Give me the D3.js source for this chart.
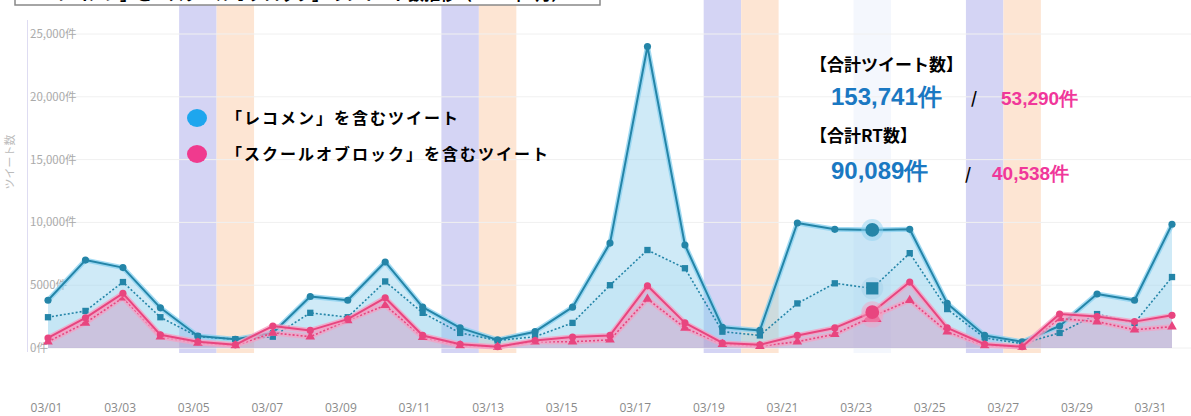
<!DOCTYPE html>
<html>
<head>
<meta charset="utf-8">
<script src="https://cdn.jsdelivr.net/npm/d3@7"></script>
<style>
  body { margin: 0; background: #fff; }
  svg { display: block; font-family: "Noto Sans CJK JP", "Noto Sans", sans-serif; }
</style>
</head>
<body>
<svg id="chart" width="1191" height="416"></svg>
<script>
// days of March
const dates = ["03/01","03/02","03/03","03/04","03/05","03/06","03/07","03/08","03/09","03/10",
  "03/11","03/12","03/13","03/14","03/15","03/16","03/17","03/18","03/19","03/20",
  "03/21","03/22","03/23","03/24","03/25","03/26","03/27","03/28","03/29","03/30","03/31"]
const labelDates = ["03/01","03/03","03/05","03/07","03/09","03/11","03/13","03/15",
  "03/17","03/19","03/21","03/23","03/25","03/27","03/29","03/31"]

// tweets / retweets per day
const recoTweets = [3800,7000,6400,3200,950,700,1200,4100,3800,6850,3250,1600,650,1300,3250,8350,
  24000,8200,1650,1400,9950,9450,9400,9450,3550,1000,500,1750,4300,3800,9850]
const recoRT = [2450,2950,5250,2450,900,700,900,2800,2450,5300,2800,1200,600,900,2000,5000,
  7800,6350,1300,1000,3550,5150,4750,7550,3100,800,350,1200,2700,2000,5650]
const sobTweets = [800,2400,4350,1050,500,250,1750,1400,2300,4000,1000,300,100,600,870,1000,
  4950,2000,400,250,1000,1600,2850,5250,1600,300,100,2700,2500,2100,2600]
const sobRT = [500,2000,4000,900,400,200,1200,900,2200,3400,850,200,80,500,500,650,
  3900,1600,300,150,500,1100,2500,3800,1300,200,80,2350,2100,1450,1700]

const yTicks = [0, 5000, 10000, 15000, 20000, 25000]
const yTickLabels = ["0件","5000件","10,000件","15,000件","20,000件","25,000件"]

const saturdays = ["03/05","03/12","03/19","03/26"]
const sundays = ["03/06","03/13","03/20","03/27"]
const hoverDay = "03/23"

const legendLabels = ["「レコメン」を含むツイート", "「スクールオブロック」を含むツイート"]
const totalTweets = ["153,741件", "53,290件"]
const totalRT = ["90,089件", "40,538件"]

const svg = d3.select("#chart")
const x = d3.scalePoint().domain(dates).range([48, 1172])
const xLab = d3.scalePoint().domain(labelDates).range([46, 1150])
const y = d3.scaleLinear().domain([0, 25000]).range([348, 34])
const step = x.step()

// weekend bands
const band = (days, color) => {
  svg.append("g").selectAll("rect")
    .data(days)
    .join("rect")
    .attr("x", d => x(d) - step/2)
    .attr("y", 0)
    .attr("width", step)
    .attr("height", 353)
    .attr("fill", color)
}
band([hoverDay], "#f4f7fd")
band(saturdays, "#d4d4f4")
band(sundays, "#fde5d3")

// title box (cut off at the top)
svg.append("rect")
  .attr("x", 15).attr("y", -30).attr("width", 585).attr("height", 35)
  .attr("fill", "#fff").attr("stroke", "#888").attr("stroke-width", 1.5)
svg.append("text")
  .attr("x", 40).attr("y", 0)
  .attr("font-size", 16).attr("font-weight", "bold")
  .text("「レコメン」と「スクールオブロック」のツイート数推移（2022年3月）")

// grid + y labels
const yAxis = svg.append("g")
yAxis.selectAll("line")
  .data(yTicks)
  .join("line")
  .attr("x1", 30).attr("x2", 1191)
  .attr("y1", d => y(d)).attr("y2", d => y(d))
  .attr("stroke", "#f0f0f0")
svg.append("line")
  .attr("x1", 27.5).attr("x2", 27.5).attr("y1", 20).attr("y2", 352)
  .attr("stroke", "#dedcf2")
yAxis.selectAll("text")
  .data(yTicks)
  .join("text")
  .attr("x", 30).attr("y", d => y(d) + 4)
  .attr("font-size", 11.5).attr("fill", "#aaa")
  .text((d, i) => yTickLabels[i])
svg.append("text")
  .attr("transform", "translate(14,162) rotate(-90)")
  .attr("text-anchor", "middle")
  .attr("font-size", 11).attr("fill", "#bbb")
  .text("ツイート数")

// x labels
svg.append("g")
  .attr("transform", "translate(0,403)")
  .call(d3.axisBottom(xLab).tickSize(0).tickPadding(0))
  .call(g => g.select(".domain").remove())
  .call(g => g.selectAll("text")
    .attr("font-size", 12).attr("fill", "#8a8a8a")
    .attr("font-family", "\"Open Sans\", sans-serif"))

// areas
const area = vals => d3.area()
  .x((d, i) => x(dates[i]))
  .y0(y(0))
  .y1(d => y(d))(vals)
svg.append("path").attr("d", area(recoTweets)).attr("fill", "rgba(140,205,235,0.42)")
svg.append("path").attr("d", area(recoRT)).attr("fill", "rgba(140,205,235,0.15)")
svg.append("path").attr("d", area(sobTweets)).attr("fill", "rgba(215,130,180,0.35)")

const line = vals => d3.line().x((d, i) => x(dates[i])).y(d => y(d))(vals)

const drawSeries = (vals, color, halo, dashed, shape) => {
  const g = svg.append("g")
  if (halo) {
    g.append("path").attr("d", line(vals))
      .attr("fill", "none").attr("stroke", halo).attr("stroke-width", 5)
      .attr("stroke-linejoin", "round")
  }
  g.append("path").attr("d", line(vals))
    .attr("fill", "none").attr("stroke", color)
    .attr("stroke-width", dashed ? 1.6 : 2)
    .attr("stroke-dasharray", dashed ? "2,2" : null)
    .attr("stroke-linejoin", "round")
  g.selectAll(".halo")
    .data(vals.filter((d, i) => dates[i] == hoverDay))
    .join("circle")
    .attr("cx", x(hoverDay)).attr("cy", d => y(d))
    .attr("r", 11).attr("fill", halo || "rgba(150,200,230,0.5)").attr("opacity", 0.6)
  g.selectAll(".mark")
    .data(vals)
    .join("path")
    .attr("transform", (d, i) => `translate(${x(dates[i])},${y(d)})`)
    .attr("d", (d, i) => d3.symbol(shape, dates[i] == hoverDay ? 150 : 40)())
    .attr("fill", color)
}

drawSeries(recoTweets, "#2485a8", "rgba(140,210,240,0.8)", false, d3.symbolCircle)
drawSeries(recoRT, "#2485a8", null, true, d3.symbolSquare)
drawSeries(sobRT, "#e8457f", "rgba(245,160,195,0.7)", true, d3.symbolTriangle)
drawSeries(sobTweets, "#e8457f", "rgba(245,160,195,0.8)", false, d3.symbolCircle)

// legend
const legend = svg.append("g")
const legendColors = ["#1ea6ee", "#f03a8e"]
legend.selectAll("ellipse")
  .data(legendLabels)
  .join("ellipse")
  .attr("cx", 197).attr("cy", (d, i) => 118 + i*36)
  .attr("rx", 10).attr("ry", 9)
  .attr("fill", (d, i) => legendColors[i])
legend.selectAll("text")
  .data(legendLabels)
  .join("text")
  .attr("x", 226).attr("y", (d, i) => 124 + i*36)
  .attr("font-size", 16).attr("font-weight", "bold")
  .attr("letter-spacing", 2)
  .text(d => d)

// totals
const totals = svg.append("g").attr("font-weight", "bold")
const blue = "#1a78c2", pink = "#f0379a"
totals.append("text").attr("x", 810).attr("y", 71).attr("font-size", 17).text("【合計ツイート数】")
totals.append("text").attr("x", 831).attr("y", 105).attr("font-size", 24).attr("fill", blue)
  .attr("font-family", "\"Liberation Sans\", Arial, sans-serif").text(totalTweets[0])
totals.append("text").attr("x", 971).attr("y", 104).attr("font-size", 16).text("/")
totals.append("text").attr("x", 1001).attr("y", 105).attr("font-size", 19).attr("fill", pink)
  .attr("font-family", "\"Liberation Sans\", Arial, sans-serif").text(totalTweets[1])
totals.append("text").attr("x", 810).attr("y", 142).attr("font-size", 17).text("【合計RT数】")
totals.append("text").attr("x", 831).attr("y", 179).attr("font-size", 24).attr("fill", blue)
  .attr("font-family", "\"Liberation Sans\", Arial, sans-serif").text(totalRT[0])
totals.append("text").attr("x", 965).attr("y", 180).attr("font-size", 16).text("/")
totals.append("text").attr("x", 992).attr("y", 180).attr("font-size", 19).attr("fill", pink)
  .attr("font-family", "\"Liberation Sans\", Arial, sans-serif").text(totalRT[1])
</script>
</body>
</html>
